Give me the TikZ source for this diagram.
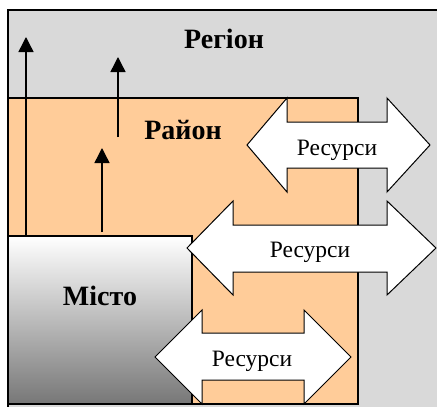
\documentclass[tikz,border=0pt]{standalone}
\usepackage{fontspec}
\setmainfont{Liberation Serif}
\usetikzlibrary{arrows.meta}
\definecolor{regiongray}{HTML}{D9D9D9}
\definecolor{districttan}{HTML}{FFCC99}
\definecolor{citydark}{HTML}{777777}
\tikzset{
  frame/.style={draw=black, line width=1.4pt},
  blockarrow/.style={draw=black, fill=white, line width=1pt, line join=miter},
  uparrow/.style={draw=black, line width=1.4pt, -{Triangle[length=15pt,width=15pt]}},
  bigtitle/.style={font=\fontsize{28}{28}\selectfont\bfseries, anchor=base, inner sep=0pt},
  restext/.style={font=\fontsize{23.5}{23.5}\selectfont, anchor=base, inner sep=0pt}
}
\begin{document}
\begin{tikzpicture}[x=1pt, y=-1pt]
  \useasboundingbox (0,0) rectangle (437,407);
  \clip (0,0) rectangle (437,407);

  % region, district and city areas
  \path[frame, fill=regiongray] (8,10) rectangle (460,430);
  \path[frame, fill=districttan] (8,98) rectangle (358,404);
  \path[frame, top color=white, bottom color=citydark] (8,236) rectangle (192,404);

  % upward flows
  \coordinate (a1s) at (26,236);  \coordinate (a1e) at (26,37);
  \coordinate (a2s) at (118,137); \coordinate (a2e) at (118,57);
  \coordinate (a3s) at (102,232); \coordinate (a3e) at (102,148);
  \draw[uparrow] (a1s) -- (a1e);
  \draw[uparrow] (a2s) -- (a2e);
  \draw[uparrow] (a3s) -- (a3e);

  % two-way resource arrows
  \path[blockarrow] (247,145) -- (287,98) -- (287,122) -- (387,122) -- (387,98)
    -- (430,145) -- (387,192) -- (387,168) -- (287,168) -- (287,192) -- cycle;
  \path[blockarrow] (187,248) -- (233,201) -- (233,225) -- (387,225) -- (387,201)
    -- (436,248) -- (387,295) -- (387,272) -- (233,272) -- (233,295) -- cycle;
  \path[blockarrow] (155,357) -- (202,310) -- (202,333) -- (304,333) -- (304,310)
    -- (351,357) -- (304,404) -- (304,380) -- (202,380) -- (202,404) -- cycle;

  % labels
  \node[bigtitle] (region) at (224,48) {Регіон};
  \node[bigtitle] (district) at (183,139) {Район};
  \node[bigtitle] (city) at (100,305) {Місто};
  \node[restext] (resA) at (337,155) {Ресурси};
  \node[restext] (resB) at (310,257) {Ресурси};
  \node[restext] (resC) at (252,366) {Ресурси};
\end{tikzpicture}
\end{document}
